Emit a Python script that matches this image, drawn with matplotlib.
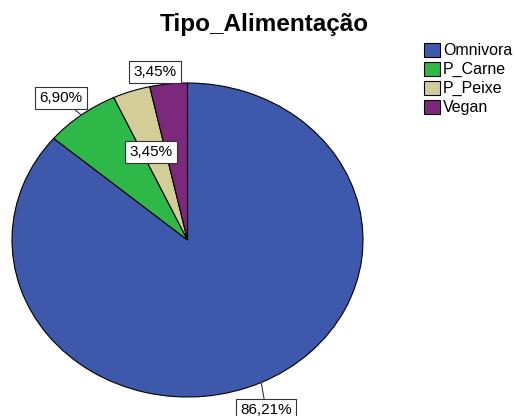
import matplotlib
matplotlib.use('Agg')
import matplotlib.pyplot as plt
import numpy as np

plt.rcParams['font.family'] = ['Liberation Sans', 'DejaVu Sans']

# data
categories = ['Omnivora', 'P_Carne', 'P_Peixe', 'Vegan']
percentages = [86.21, 6.90, 3.45, 3.45]
colors = ['#3E58AC', '#2EB848', '#D3CE97', '#7C287D']
title = 'Tipo_Alimentação'

# label box centres in image pixels (x, y from top) and leader on/off
label_pos = [(266, 410), (61, 98), (151, 152), (155, 72)]
leader = [True, True, False, False]

W, H = 515, 416
fig = plt.figure(figsize=(W / 100, H / 100), dpi=100)

# pie is an ellipse: centre (187.5, 240), rx 175.5, ry 157 px
cx, cy, rx, ry = 187.5, 240, 175.5, 157
ax = fig.add_axes([(cx - rx) / W, 1 - (cy + ry) / H, 2 * rx / W, 2 * ry / H])
wedges, _ = ax.pie(percentages, colors=colors, startangle=90, counterclock=False,
                   wedgeprops=dict(edgecolor='black', linewidth=0.8))
ax.set_aspect('auto')
ax.set_xlim(-1, 1)
ax.set_ylim(-1, 1)
ax.axis('off')

for w, p, (lx, ly), ld in zip(wedges, percentages, label_pos, leader):
    txt = '{:.2f}%'.format(p).replace('.', ',')
    ang = np.deg2rad((w.theta1 + w.theta2) / 2)
    xy = (np.cos(ang), np.sin(ang))
    ax.annotate(txt, xy=xy, xycoords='data',
                xytext=(lx, H - ly), textcoords='figure pixels',
                ha='center', va='center', fontsize=11, annotation_clip=False,
                bbox=dict(boxstyle='square,pad=0.27', fc='white', ec='#333333', lw=0.8),
                arrowprops=dict(arrowstyle='-', color='#333333', lw=0.8,
                                shrinkA=0, shrinkB=0) if ld else None)

fig.text(264 / W, 1 - 24 / H, title, ha='center', va='center',
         fontsize=17.5, fontweight='bold')

fig.legend(wedges, categories, loc='upper left',
           bbox_to_anchor=(424 / W, 1 - 43 / H), frameon=False,
           fontsize=11.5, handlelength=1.0, handleheight=0.95,
           handletextpad=0.2, labelspacing=0.22, borderpad=0,
           borderaxespad=0)

fig.savefig('out.png', dpi=100)
